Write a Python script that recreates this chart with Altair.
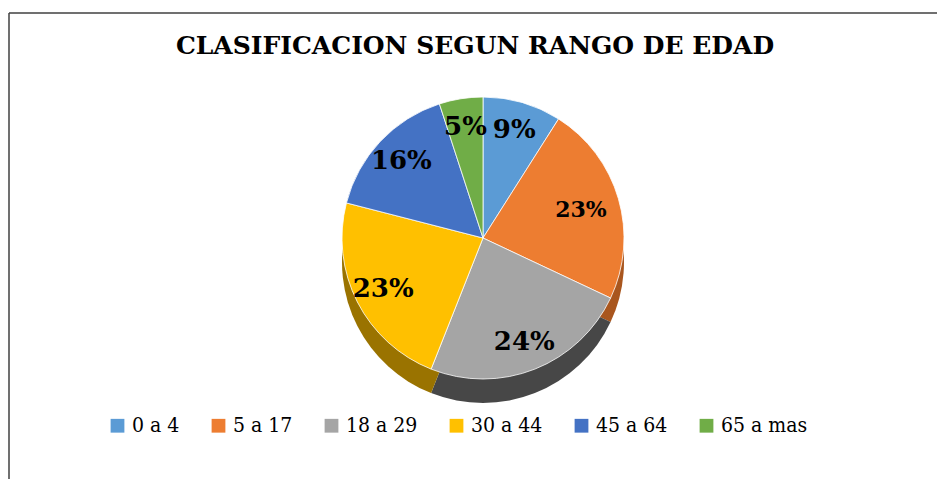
import altair as alt
import pandas as pd

categories = ["0 a 4", "5 a 17", "18 a 29", "30 a 44", "45 a 64", "65 a mas"]
percentages = [9, 23, 24, 23, 16, 5]
labels = ["9%", "23%", "24%", "23%", "16%", "5%"]
colors = ["#5B9BD5", "#ED7D31", "#A5A5A5", "#FFC000", "#4472C4", "#70AD47"]
dark_colors = ["#3a6e9e", "#a9561e", "#474747", "#9a7300", "#2c4c85", "#4a7a2c"]
title_text = ["CLASIFICACION SEGUN RANGO DE EDAD"]

df = pd.DataFrame({
    "cat": categories,
    "value": percentages,
    "label": labels,
    "idx": list(range(len(categories))),
})
tdf = pd.DataFrame({"t": title_text})

CX, CY, R, DEPTH = 483, 238, 141, 24
SERIF = "DejaVu Serif"
LEGEND_FONT = "DejaVu Serif Condensed"

base = alt.Chart(df)
theta = alt.Theta("value:Q", stack=True)
order = alt.Order("idx:Q")

shadow = base.mark_arc(outerRadius=R, stroke=None).encode(
    theta=theta,
    order=order,
    color=alt.Color("cat:N", sort=categories,
                    scale=alt.Scale(domain=categories, range=dark_colors),
                    legend=None),
    x=alt.value(CX), y=alt.value(CY + DEPTH),
)

top = base.mark_arc(outerRadius=R, stroke="white", strokeWidth=0.8).encode(
    theta=theta,
    order=order,
    color=alt.Color("cat:N", sort=categories,
                    scale=alt.Scale(domain=categories, range=colors),
                    legend=alt.Legend(
                        title=None, orient="none", direction="horizontal",
                        legendX=107, legendY=415,
                        symbolType="square", symbolSize=190,
                        symbolStrokeWidth=0,
                        labelFont=LEGEND_FONT, labelFontSize=21, labelColor="#000000",
                        labelOffset=4, columnPadding=28, labelLimit=300,
                    )),
    x=alt.value(CX), y=alt.value(CY),
)

text_big = base.mark_text(
    radius=112, font=SERIF, fontSize=26, fontWeight="bold", color="#000000"
).encode(
    theta=theta, order=order,
    text=alt.condition(alt.datum.cat != "5 a 17", "label:N", alt.value("")),
    x=alt.value(CX), y=alt.value(CY),
)
text_small = base.mark_text(
    radius=102, font=SERIF, fontSize=22, fontWeight="bold", color="#000000"
).encode(
    theta=theta, order=order,
    text=alt.condition(alt.datum.cat == "5 a 17", "label:N", alt.value("")),
    x=alt.value(CX), y=alt.value(CY),
)

title = alt.Chart(tdf).mark_text(
    font=SERIF, fontSize=25, fontWeight="bold", color="#000000", baseline="alphabetic"
).encode(text="t:N", x=alt.value(475), y=alt.value(54))

border_top = alt.Chart(tdf).mark_rule(color="#404040", strokeWidth=1.5).encode(
    x=alt.value(9), x2=alt.value(937), y=alt.value(13))
border_left = alt.Chart(tdf).mark_rule(color="#404040", strokeWidth=1.5).encode(
    x=alt.value(9), y=alt.value(13), y2=alt.value(479))

chart = alt.layer(
    border_top, border_left, shadow, top, text_big, text_small, title
).resolve_scale(color="independent").properties(
    width=937, height=479, autosize=alt.AutoSizeParams(type="none"), padding=0,
    background="white",
).configure_view(stroke=None)

chart.save("out.html", embed_options={"renderer": "svg", "actions": False})
